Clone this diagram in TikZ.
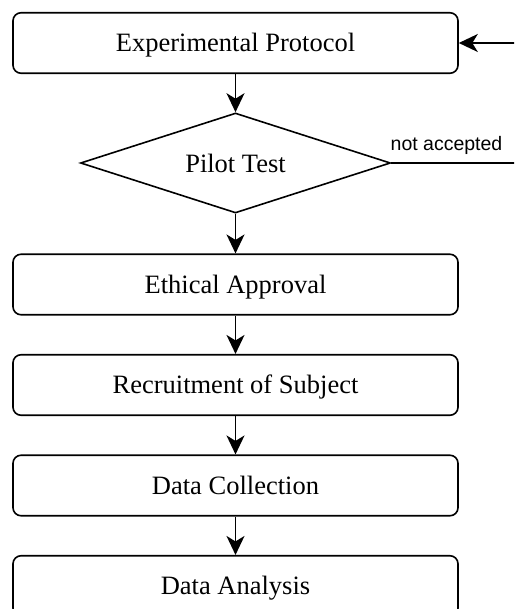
\documentclass[tikz,border=0pt]{standalone}
\usepackage{fontspec}
\setmainfont{Liberation Serif}
\newfontfamily\labelsans{Liberation Sans}
\usetikzlibrary{shapes.geometric,arrows.meta}
\begin{document}
\begin{tikzpicture}[x=1pt,y=-1pt,
  stepbox/.style={draw, line width=1.6pt, rounded corners=8pt,
    minimum width=445pt, minimum height=60.5pt, inner sep=0pt,
    text height=17.5pt, text depth=0pt,
    font=\fontsize{26.5}{31}\selectfont},
  decision/.style={diamond, draw, line width=1.6pt, shape aspect=3.1,
    minimum width=310pt, minimum height=100pt, inner sep=0pt,
    text height=20pt, text depth=0pt,
    font=\fontsize{26.5}{31}\selectfont},
  flow/.style={line width=1.7pt, -{Stealth[length=19pt,width=18pt,inset=5.5pt]}},
  edgelabel/.style={font=\labelsans\fontsize{19.5}{23}\selectfont, inner sep=0pt}
]
\useasboundingbox (0,0) rectangle (514,609);
\clip (0,0) rectangle (514,609);

% process steps
\node[stepbox]  (proto)    at (235.5,43)    {Experimental Protocol};
\node[decision] (pilot)    at (235.5,163)   {Pilot Test};
\node[stepbox]  (ethic)    at (235.5,284.5) {Ethical Approval};
\node[stepbox]  (recruit)  at (235.5,385)   {Recruitment of Subject};
\node[stepbox]  (collect)  at (235.5,485.5) {Data Collection};
\node[stepbox]  (analysis) at (235.5,586)   {Data Analysis};

% main flow
\draw[flow] (proto) -- (pilot);
\draw[flow] (pilot) -- (ethic);
\draw[flow] (ethic) -- (recruit);
\draw[flow] (recruit) -- (collect);
\draw[flow] (collect) -- (analysis);

% rejection loop back to the protocol
\coordinate (loopA) at (532,163);
\coordinate (loopB) at (532,43);
\draw[flow] (pilot.east) -- (loopA) -- (loopB) -- (proto.east);
\node[edgelabel, anchor=base] (reject) at (446.5,151) {not accepted};
\end{tikzpicture}
\end{document}
